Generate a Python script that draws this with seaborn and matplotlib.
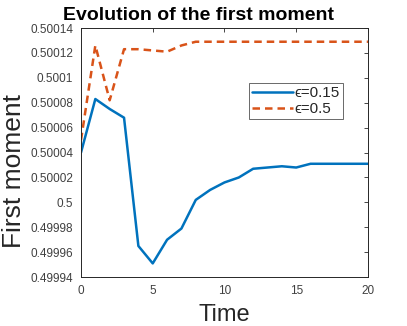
import numpy as np
import pandas as pd
import matplotlib
matplotlib.use("Agg")
import matplotlib.pyplot as plt
import seaborn as sns

time = list(range(21))
eps_015 = [0.500040, 0.500083, 0.500075, 0.500068, 0.499965, 0.499951, 0.499970,
           0.499979, 0.500002, 0.500010, 0.500016, 0.500020, 0.500027, 0.500028,
           0.500029, 0.500028, 0.500031, 0.500031, 0.500031, 0.500031, 0.500031]
eps_05 = [0.500050, 0.500126, 0.500082, 0.500123, 0.500123, 0.500122, 0.500121,
          0.500126, 0.500129, 0.500129, 0.500129, 0.500129, 0.500129, 0.500129,
          0.500129, 0.500129, 0.500129, 0.500129, 0.500129, 0.500129, 0.500129]
series_labels = ["\u03f5=0.15", "\u03f5=0.5"]
yticks = [0.49994, 0.49996, 0.49998, 0.5, 0.50002, 0.50004, 0.50006, 0.50008,
          0.5001, 0.50012, 0.50014]
ytick_labels = ["0.49994", "0.49996", "0.49998", "0.5", "0.50002", "0.50004",
                "0.50006", "0.50008", "0.5001", "0.50012", "0.50014"]
xticks = [0, 5, 10, 15, 20]

df = pd.DataFrame({
    "Time": time * 2,
    "value": eps_015 + eps_05,
    "series": [series_labels[0]] * len(time) + [series_labels[1]] * len(time),
})

sns.set_style("white")
plt.rcParams["font.family"] = ["Liberation Sans", "DejaVu Sans"]

fig = plt.figure(figsize=(4.07, 3.26), dpi=100)
ax = fig.add_axes([0.199, 0.150, 0.705, 0.764])

palette = {series_labels[0]: "#0072BD", series_labels[1]: "#D95319"}
dashes = {series_labels[0]: "", series_labels[1]: (3, 2)}
sns.lineplot(data=df, x="Time", y="value", hue="series", style="series",
             palette=palette, dashes=dashes, linewidth=1.8, ax=ax)

ax.set_xlim(0, 20)
ax.set_ylim(0.49994, 0.50014)
ax.set_xticks(xticks)
ax.set_xticklabels([str(t) for t in xticks])
ax.set_yticks(yticks)
ax.set_yticklabels(ytick_labels)
ax.tick_params(direction="in", length=3, width=0.6, colors="#262626",
               labelsize=8.5, top=True, right=True, pad=5.5)
ax.tick_params(labelcolor="#404040")
for s in ax.spines.values():
    s.set_color("#262626")
    s.set_linewidth(0.7)

ax.set_xlabel("Time", fontsize=17, color="#262626", labelpad=5)
ax.set_ylabel("First moment", fontsize=19, color="#262626")
ax.yaxis.set_label_coords(-0.19, 0.424)
ax.set_title("Evolution of the first moment", fontsize=14, fontweight="bold",
             color="black", x=0.408, pad=6)

leg = ax.legend(loc="upper left", bbox_to_anchor=(0.585, 0.78), fontsize=11,
                frameon=True, fancybox=False, handlelength=2.7,
                borderpad=0.2, labelspacing=0.15, handletextpad=0.1,
                borderaxespad=0)
leg.get_frame().set_edgecolor("#262626")
leg.get_frame().set_linewidth(0.6)

fig.savefig("out.png", dpi=100)
